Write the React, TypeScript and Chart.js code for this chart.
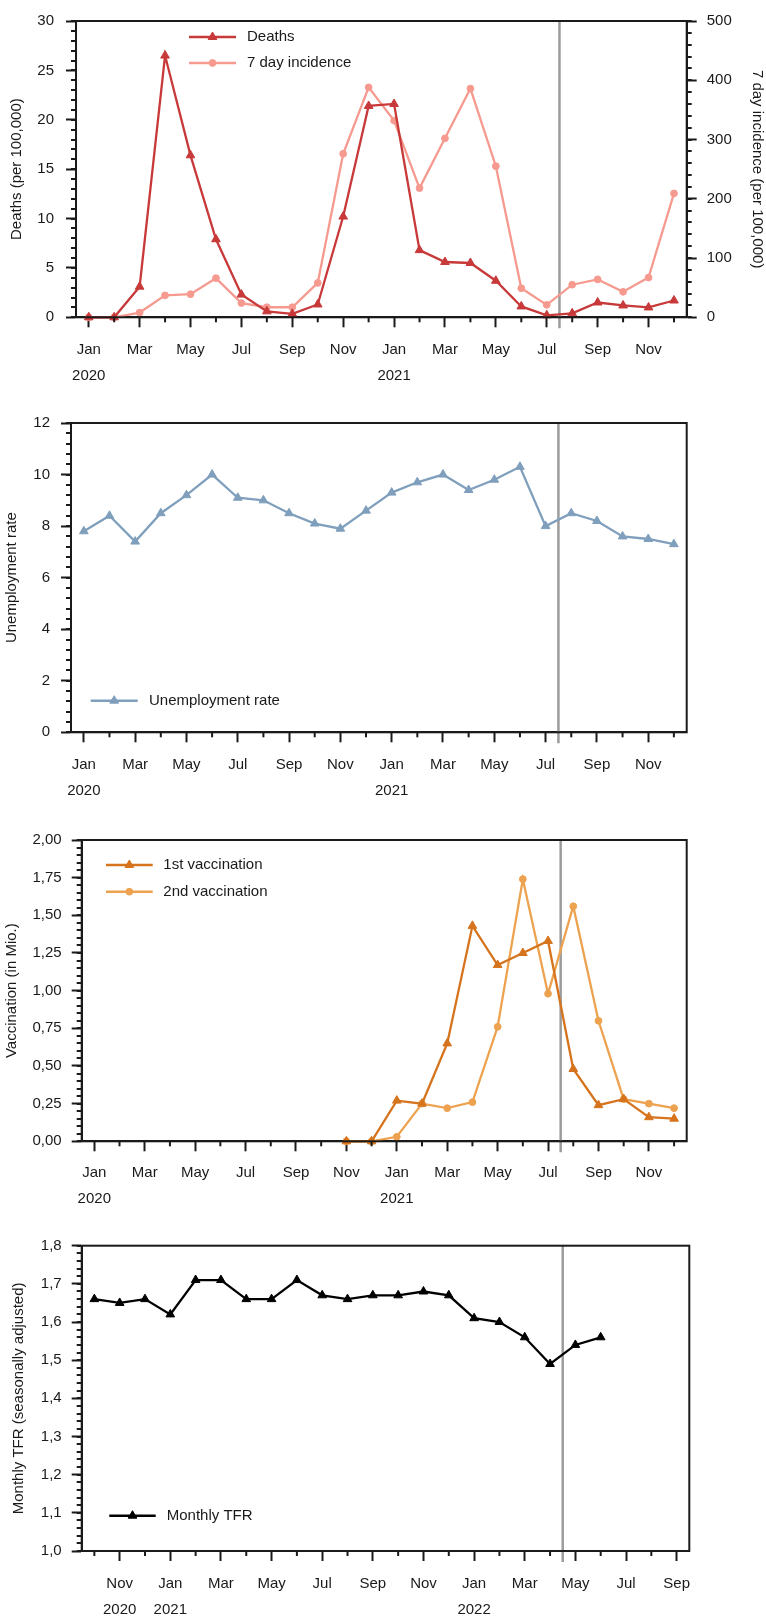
import React, { useEffect, useRef } from 'react';
import { Chart, registerables } from 'chart.js';

Chart.register(...registerables);

const FONT = "'Liberation Sans', Arial, Helvetica, sans-serif";
const INK = '#1a1a1a';
Chart.defaults.font.family = FONT;
Chart.defaults.color = INK;

// ---------- Panels 1-3: Jan 2020 – Dec 2021 ----------
const months2021 = [
  '2020-01', '2020-02', '2020-03', '2020-04', '2020-05', '2020-06',
  '2020-07', '2020-08', '2020-09', '2020-10', '2020-11', '2020-12',
  '2021-01', '2021-02', '2021-03', '2021-04', '2021-05', '2021-06',
  '2021-07', '2021-08', '2021-09', '2021-10', '2021-11', '2021-12',
];
const tickMonths2021 = [
  'Jan', '', 'Mar', '', 'May', '', 'Jul', '', 'Sep', '', 'Nov', '',
  'Jan', '', 'Mar', '', 'May', '', 'Jul', '', 'Sep', '', 'Nov', '',
];
const tickYears2021 = [
  '2020', '', '', '', '', '', '', '', '', '', '', '',
  '2021', '', '', '', '', '', '', '', '', '', '', '',
];

const deaths = [0, 0, 3.1, 26.5, 16.4, 7.9, 2.3, 0.6, 0.35, 1.3, 10.2, 21.4, 21.6, 6.8, 5.6, 5.5, 3.7, 1.1, 0.2, 0.4, 1.5, 1.2, 1.0, 1.7];
const incidence = [0, 0, 8, 37, 39, 66, 24, 17, 17, 58, 276, 388, 332, 218, 302, 386, 255, 49, 21, 55, 64, 43, 67, 209];
const unemployment = [7.8, 8.4, 7.4, 8.5, 9.2, 10.0, 9.1, 9.0, 8.5, 8.1, 7.9, 8.6, 9.3, 9.7, 10.0, 9.4, 9.8, 10.3, 8.0, 8.5, 8.2, 7.6, 7.5, 7.3];
const vaccination1 = [null, null, null, null, null, null, null, null, null, null, 0, 0, 0.27, 0.25, 0.65, 1.43, 1.17, 1.25, 1.33, 0.48, 0.24, 0.28, 0.16, 0.15];
const vaccination2 = [null, null, null, null, null, null, null, null, null, null, 0, 0, 0.03, 0.25, 0.22, 0.26, 0.76, 1.74, 0.98, 1.56, 0.80, 0.28, 0.25, 0.22];

// ---------- Panel 4: Oct 2020 – Sep 2022 ----------
const months2022 = [
  '2020-10', '2020-11', '2020-12', '2021-01', '2021-02', '2021-03',
  '2021-04', '2021-05', '2021-06', '2021-07', '2021-08', '2021-09',
  '2021-10', '2021-11', '2021-12', '2022-01', '2022-02', '2022-03',
  '2022-04', '2022-05', '2022-06', '2022-07', '2022-08', '2022-09',
];
const tickMonths2022 = [
  '', 'Nov', '', 'Jan', '', 'Mar', '', 'May', '', 'Jul', '', 'Sep',
  '', 'Nov', '', 'Jan', '', 'Mar', '', 'May', '', 'Jul', '', 'Sep',
];
const tickYears2022 = [
  '', '2020', '', '2021', '', '', '', '', '', '', '', '',
  '', '', '', '2022', '', '', '', '', '', '', '', '',
];
const tfr = [1.66, 1.65, 1.66, 1.62, 1.71, 1.71, 1.66, 1.66, 1.71, 1.67, 1.66, 1.67, 1.67, 1.68, 1.67, 1.61, 1.60, 1.56, 1.49, 1.54, 1.56, null, null, null];

// reference line (category position, between two months)
const markerPosition = 18.5;

// ---------- colours ----------
const C_DEATHS = '#c8393a';
const C_INCID = '#f69a8f';
const C_UNEMP = '#7f9fbc';
const C_VAC1 = '#d6731d';
const C_VAC2 = '#eda24f';
const C_TFR = '#000000';

type LegendCfg = { x0: number; x1: number; tx: number; ys: number[] };
type DecorCfg = { minor: { id: string; step: number }[]; months: string[]; legend: LegendCfg };

function drawMarker(ctx: CanvasRenderingContext2D, style: string, x: number, y: number, r: number) {
  ctx.beginPath();
  if (style === 'triangle') {
    let rad = 0;
    for (let k = 0; k < 3; k++) {
      const px = x + Math.sin(rad) * r;
      const py = y - Math.cos(rad) * r;
      if (k === 0) ctx.moveTo(px, py);
      else ctx.lineTo(px, py);
      rad += (2 * Math.PI) / 3;
    }
    ctx.closePath();
  } else {
    ctx.arc(x, y, r, 0, Math.PI * 2);
  }
  ctx.fill();
  ctx.stroke();
}

function makeDecor(cfg: DecorCfg) {
  return {
    id: 'decor',
    beforeDatasetsDraw(chart: any) {
      const { ctx, chartArea: a, scales } = chart;
      const x = scales.x.getPixelForValue(markerPosition);
      ctx.save();
      ctx.strokeStyle = '#9c9c9c';
      ctx.lineWidth = 2.5;
      ctx.beginPath();
      ctx.moveTo(x, a.top);
      ctx.lineTo(x, a.bottom + 11);
      ctx.stroke();
      ctx.restore();
    },
    afterDatasetsDraw(chart: any) {
      const { ctx, chartArea: a, scales } = chart;
      ctx.save();
      ctx.strokeStyle = INK;
      ctx.lineWidth = 2;
      // minor ticks on value axes
      cfg.minor.forEach(({ id, step }) => {
        const s = scales[id];
        const right = s.position === 'right';
        for (let k = 0; ; k++) {
          const v = s.min + k * step;
          if (v > s.max + step * 1e-6) break;
          const y = Math.round(s.getPixelForValue(v));
          ctx.beginPath();
          if (right) {
            ctx.moveTo(a.right, y);
            ctx.lineTo(a.right + 5, y);
          } else {
            ctx.moveTo(a.left - 5, y);
            ctx.lineTo(a.left, y);
          }
          ctx.stroke();
        }
      });
      // short ticks for unlabelled months
      const xs = scales.x;
      xs.ticks.forEach((_t: any, i: number) => {
        if (cfg.months[i]) return;
        const x = xs.getPixelForTick(i);
        ctx.beginPath();
        ctx.moveTo(x, a.bottom);
        ctx.lineTo(x, a.bottom + 5);
        ctx.stroke();
      });
      // frame
      ctx.strokeRect(a.left, a.top, a.right - a.left, a.bottom - a.top);
      // legend
      const L = cfg.legend;
      ctx.font = `15px ${FONT}`;
      ctx.textBaseline = 'middle';
      ctx.textAlign = 'left';
      L.ys.forEach((y, i) => {
        const ds = chart.data.datasets[i];
        ctx.strokeStyle = ds.borderColor;
        ctx.fillStyle = ds.borderColor;
        ctx.lineWidth = 2.5;
        ctx.beginPath();
        ctx.moveTo(L.x0, y);
        ctx.lineTo(L.x1, y);
        ctx.stroke();
        ctx.lineWidth = 1;
        drawMarker(ctx, ds.pointStyle, (L.x0 + L.x1) / 2, y, ds.pointRadius);
        ctx.fillStyle = INK;
        ctx.fillText(ds.label, L.tx, y);
      });
      ctx.restore();
    },
  };
}

function xAxis(months: string[], years: string[], pad: number, height: number) {
  return {
    type: 'category',
    offset: true,
    afterFit: (s: any) => {
      s.height = height;
    },
    grid: {
      drawOnChartArea: false,
      offset: false,
      tickLength: 10,
      tickWidth: 2,
      tickColor: (c: any) => (months[c.index] ? INK : 'rgba(0,0,0,0)'),
    },
    border: { display: true, color: INK, width: 2 },
    ticks: {
      autoSkip: false,
      maxRotation: 0,
      minRotation: 0,
      padding: pad,
      color: INK,
      font: { size: 15, lineHeight: 26 / 15 },
      callback: (_v: any, i: number) => (years[i] ? [months[i], years[i]] : months[i]),
    },
  };
}

function yAxis(o: {
  position?: string;
  min: number;
  max: number;
  step: number;
  width: number;
  pad: number;
  title: string;
  titlePad: number;
  fmt: (v: number) => string;
}) {
  return {
    type: 'linear',
    position: o.position || 'left',
    min: o.min,
    max: o.max,
    afterFit: (s: any) => {
      s.width = o.width;
    },
    grid: { drawOnChartArea: false, tickLength: 10, tickWidth: 2, tickColor: INK },
    border: { display: true, color: INK, width: 2 },
    ticks: {
      stepSize: o.step,
      padding: o.pad,
      color: INK,
      font: { size: 15 },
      callback: (v: any) => o.fmt(Number(v)),
    },
    title: {
      display: true,
      text: o.title,
      color: INK,
      font: { size: 15 },
      padding: { top: o.titlePad, bottom: 0 },
    },
  };
}

const lineDs = (label: string, data: (number | null)[], color: string, style: string, r: number, extra: any = {}) => ({
  label,
  data,
  borderColor: color,
  backgroundColor: color,
  pointBackgroundColor: color,
  pointBorderColor: color,
  borderWidth: 2.3,
  pointStyle: style,
  pointRadius: r,
  pointBorderWidth: 1,
  tension: 0,
  spanGaps: false,
  clip: false,
  ...extra,
});

const baseOptions = (padTop: number, padRight: number) => ({
  responsive: false,
  animation: false,
  events: [],
  layout: { padding: { top: padTop, right: padRight, bottom: 0, left: 0 } },
  plugins: { legend: { display: false }, tooltip: { enabled: false } },
});

function buildDeaths(): any {
  return {
    type: 'line',
    data: {
      labels: months2021,
      datasets: [
        lineDs('Deaths', deaths, C_DEATHS, 'triangle', 5, { yAxisID: 'y' }),
        lineDs('7 day incidence', incidence, C_INCID, 'circle', 3.4, { yAxisID: 'y1' }),
      ],
    },
    options: {
      ...baseOptions(12.3, 0),
      scales: {
        x: xAxis(tickMonths2021, tickYears2021, 10, 82.7),
        y: yAxis({ min: 0, max: 30, step: 5, width: 76, pad: 12, title: 'Deaths (per 100,000)', titlePad: 8, fmt: (v) => String(v) }),
        y1: yAxis({ position: 'right', min: 0, max: 500, step: 100, width: 79.3, pad: 10, title: '7 day incidence (per 100,000)', titlePad: 0, fmt: (v) => String(v) }),
      },
    },
    plugins: [
      makeDecor({
        minor: [{ id: 'y', step: 1 }, { id: 'y1', step: 20 }],
        months: tickMonths2021,
        legend: { x0: 189, x1: 236, tx: 247, ys: [37, 63] },
      }),
    ],
  };
}

function buildUnemployment(): any {
  return {
    type: 'line',
    data: {
      labels: months2021,
      datasets: [lineDs('Unemployment rate', unemployment, C_UNEMP, 'triangle', 5)],
    },
    options: {
      ...baseOptions(23, 79.3),
      scales: {
        x: xAxis(tickMonths2021, tickYears2021, 10, 67.7),
        y: yAxis({ min: 0, max: 12, step: 2, width: 71, pad: 11, title: 'Unemployment rate', titlePad: 3, fmt: (v) => String(v) }),
      },
    },
    plugins: [
      makeDecor({
        minor: [{ id: 'y', step: 0.4 }],
        months: tickMonths2021,
        legend: { x0: 90.7, x1: 137.7, tx: 149, ys: [300.7] },
      }),
    ],
  };
}

function buildVaccination(): any {
  return {
    type: 'line',
    data: {
      labels: months2021,
      datasets: [
        lineDs('1st vaccination', vaccination1, C_VAC1, 'triangle', 5),
        lineDs('2nd vaccination', vaccination2, C_VAC2, 'circle', 3.4),
      ],
    },
    options: {
      ...baseOptions(40, 79.3),
      scales: {
        x: xAxis(tickMonths2021, tickYears2021, 8.7, 73.7),
        y: yAxis({ min: 0, max: 2, step: 0.25, width: 81.7, pad: 10, title: 'Vaccination (in Mio.)', titlePad: 3, fmt: (v) => v.toFixed(2).replace('.', ',') }),
      },
    },
    plugins: [
      makeDecor({
        minor: [{ id: 'y', step: 0.05 }],
        months: tickMonths2021,
        legend: { x0: 106, x1: 152.7, tx: 163.3, ys: [65, 91.7] },
      }),
    ],
  };
}

function buildTfr(): any {
  return {
    type: 'line',
    data: {
      labels: months2022,
      datasets: [lineDs('Monthly TFR', tfr, C_TFR, 'triangle', 5)],
    },
    options: {
      ...baseOptions(30.7, 76.7),
      scales: {
        x: xAxis(tickMonths2022, tickYears2022, 9.8, 68),
        y: yAxis({ min: 1.0, max: 1.8, step: 0.1, width: 81.7, pad: 10, title: 'Monthly TFR (seasonally adjusted)', titlePad: 10, fmt: (v) => v.toFixed(1).replace('.', ',') }),
      },
    },
    plugins: [
      makeDecor({
        minor: [{ id: 'y', step: 0.02 }],
        months: tickMonths2022,
        legend: { x0: 109.3, x1: 155.7, tx: 166.7, ys: [300.7] },
      }),
    ],
  };
}

function Panel({ top, height, build }: { top: number; height: number; build: () => any }) {
  const ref = useRef<HTMLCanvasElement | null>(null);
  useEffect(() => {
    const chart = new Chart(ref.current as HTMLCanvasElement, build());
    return () => chart.destroy();
  }, [build]);
  return (
    <div style={{ position: 'absolute', left: 0, top, width: 766, height }}>
      <canvas ref={ref} width={766} height={height} style={{ width: 766, height, display: 'block' }} />
    </div>
  );
}

export default function App() {
  return (
    <div style={{ position: 'absolute', left: 0, top: 0, width: 766, height: 1619, background: '#ffffff' }}>
      <Panel top={0} height={400} build={buildDeaths} />
      <Panel top={400} height={400} build={buildUnemployment} />
      <Panel top={800} height={415} build={buildVaccination} />
      <Panel top={1215} height={404} build={buildTfr} />
    </div>
  );
}
